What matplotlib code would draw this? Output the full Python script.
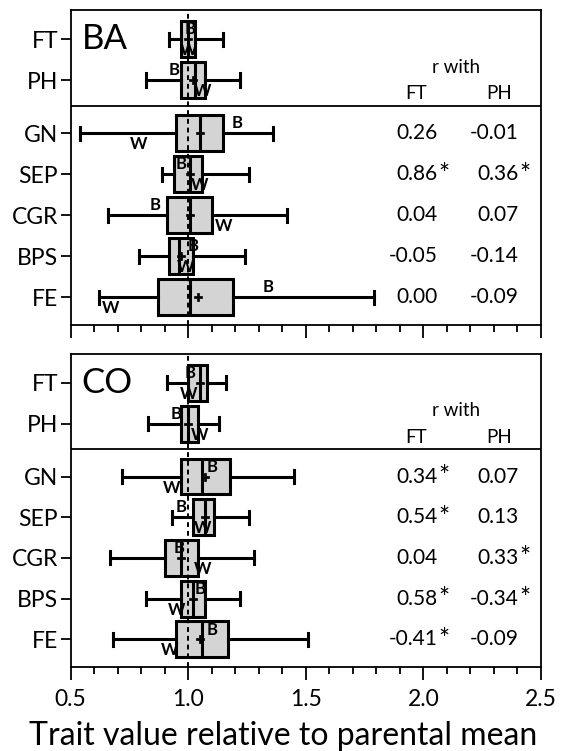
import matplotlib
matplotlib.use('Agg')
import matplotlib.pyplot as plt
from matplotlib.ticker import MultipleLocator

plt.rcParams['font.family'] = ['Lato', 'DejaVu Sans']

traits = ['FT', 'PH', 'GN', 'SEP', 'CGR', 'BPS', 'FE']
ypos = [0, 1, 2.3, 3.3, 4.3, 5.3, 6.3]

# BA population
ba_lo = [0.92, 0.82, 0.54, 0.89, 0.66, 0.79, 0.62]
ba_q1 = [0.97, 0.97, 0.95, 0.94, 0.91, 0.92, 0.87]
ba_med = [1.00, 1.03, 1.05, 1.01, 1.01, 0.96, 1.01]
ba_mean = [1.00, 1.02, 1.05, 1.01, 1.01, 0.97, 1.04]
ba_q3 = [1.03, 1.07, 1.15, 1.06, 1.10, 1.02, 1.19]
ba_hi = [1.15, 1.22, 1.36, 1.26, 1.42, 1.24, 1.79]
ba_B = [1.01, 0.94, 1.21, 0.97, 0.86, 1.02, 1.34]
ba_W = [1.00, 1.06, 0.79, 1.05, 1.15, 0.99, 0.67]
ba_rFT = ['0.26', '0.86*', '0.04', '-0.05', '0.00']
ba_rPH = ['-0.01', '0.36*', '0.07', '-0.14', '-0.09']

# CO population
co_lo = [0.91, 0.83, 0.72, 0.93, 0.67, 0.82, 0.68]
co_q1 = [1.00, 0.97, 0.97, 1.02, 0.90, 0.97, 0.95]
co_med = [1.05, 1.00, 1.06, 1.07, 0.97, 1.02, 1.06]
co_mean = [1.05, 1.00, 1.07, 1.07, 0.97, 1.02, 1.05]
co_q3 = [1.08, 1.04, 1.18, 1.11, 1.04, 1.07, 1.17]
co_hi = [1.16, 1.13, 1.45, 1.26, 1.28, 1.22, 1.51]
co_B = [1.01, 0.95, 1.10, 0.97, 0.96, 1.05, 1.10]
co_W = [1.00, 1.05, 0.93, 1.06, 1.06, 0.95, 0.92]
co_rFT = ['0.34*', '0.54*', '0.04', '0.58*', '-0.41*']
co_rPH = ['0.07', '0.13', '0.33*', '-0.34*', '-0.09']


def draw_panel(ax, name, lo, q1, med, mean, q3, hi, B, W, rFT, rPH):
    stats = []
    for i in range(len(traits)):
        stats.append({'whislo': lo[i], 'q1': q1[i], 'med': med[i], 'mean': mean[i],
                      'q3': q3[i], 'whishi': hi[i], 'fliers': []})
    ax.axvline(1.0, color='black', ls=(0, (2.5, 2)), lw=1.4, zorder=3)
    ax.bxp(stats, positions=ypos, vert=False, widths=0.88, capwidths=0.32,
           showmeans=True, patch_artist=True,
           boxprops=dict(facecolor='#d4d4d4', edgecolor='black', lw=2.2),
           medianprops=dict(color='black', lw=2.2),
           whiskerprops=dict(color='black', lw=2.2),
           capprops=dict(color='black', lw=2.2),
           meanprops=dict(marker='P', markerfacecolor='black', markeredgecolor='black',
                          markersize=6, markeredgewidth=0.5),
           zorder=2)
    for i in range(len(traits)):
        ax.text(B[i], ypos[i] - 0.24, 'B', ha='center', va='center', fontsize=12,
                fontweight='bold', zorder=5)
        ax.text(W[i], ypos[i] + 0.27, 'W', ha='center', va='center', fontsize=12,
                fontweight='bold', zorder=5)
    ax.axhline(1.63, color='black', lw=1.3)
    ax.text(0.547, 0, name, fontsize=25, ha='left', va='center')
    ax.text(2.14, 0.69, 'r with', fontsize=13.5, ha='center', va='center')
    ax.text(1.97, 1.33, 'FT', fontsize=13.5, ha='center', va='center')
    ax.text(2.32, 1.33, 'PH', fontsize=13.5, ha='center', va='center')
    for j in range(len(rFT)):
        for val, xr in ((rFT[j], 2.06), (rPH[j], 2.405)):
            ax.text(xr, ypos[j + 2], val.rstrip('*'), fontsize=15, ha='right', va='center')
            if val.endswith('*'):
                # significant correlation marker
                ax.text(xr + 0.005, ypos[j + 2] + 0.02, '*', fontsize=19, ha='left', va='center')

    ax.set_xlim(0.5, 2.5)
    ax.set_ylim(6.98, -0.71)
    ax.set_yticks(ypos)
    ax.set_yticklabels(traits)
    ax.xaxis.set_major_locator(MultipleLocator(0.5))
    ax.xaxis.set_minor_locator(MultipleLocator(0.1))
    ax.tick_params(axis='y', length=7, width=1.3, labelsize=16.5, pad=2)
    ax.tick_params(axis='x', which='major', length=9, width=1.3, labelsize=16.5, pad=7)
    ax.tick_params(axis='x', which='minor', length=5, width=1.3)
    for s in ax.spines.values():
        s.set_linewidth(1.3)


fig = plt.figure(figsize=(5.65, 7.51), dpi=100)
ax1 = fig.add_axes([70.5 / 565, 1 - 325 / 751, 470.5 / 565, 315 / 751])
ax2 = fig.add_axes([70.5 / 565, 1 - 667 / 751, 470.5 / 565, 313 / 751])

draw_panel(ax1, 'BA', ba_lo, ba_q1, ba_med, ba_mean, ba_q3, ba_hi, ba_B, ba_W, ba_rFT, ba_rPH)
draw_panel(ax2, 'CO', co_lo, co_q1, co_med, co_mean, co_q3, co_hi, co_B, co_W, co_rFT, co_rPH)
ax1.set_xticklabels([])
ax2.set_xticks([0.5, 1.0, 1.5, 2.0, 2.5])
ax2.set_xticklabels(['0.5', '1.0', '1.5', '2.0', '2.5'])

fig.text(283 / 565, 1 - 745 / 751, 'Trait value relative to parental mean', fontsize=23,
         ha='center', va='baseline')

fig.savefig('out.png', dpi=100)
